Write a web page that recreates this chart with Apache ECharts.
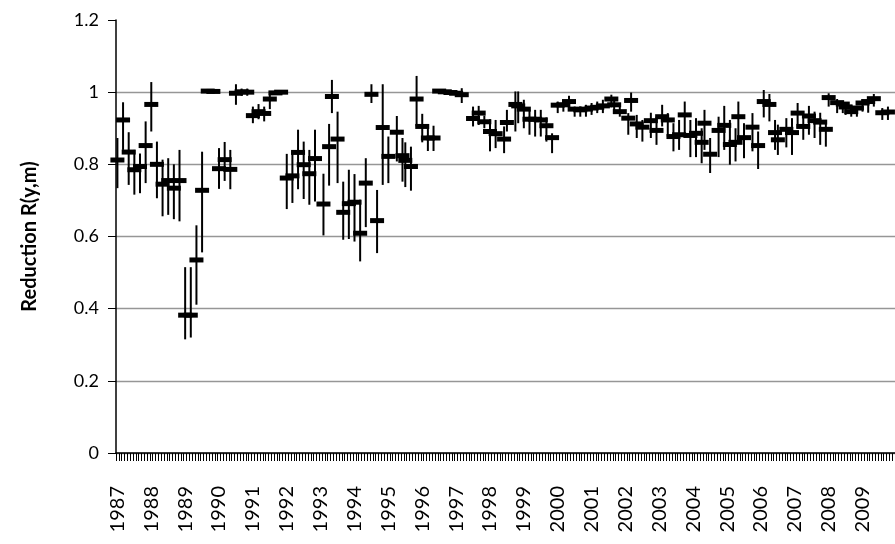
<!DOCTYPE html>
<html><head><meta charset="utf-8">
<script src="https://cdn.jsdelivr.net/npm/echarts@6/dist/echarts.min.js"></script>
<style>html,body{margin:0;padding:0;background:#fff}#c{width:895px;height:544px}</style>
</head><body><div id="c"></div>
<script>
// Years on the axis (monthly categories, label on January of each year)
const years = [1987,1988,1989,1990,1991,1992,1993,1994,1995,1996,1997,1998,1999,2000,2001,2002,2003,2004,2005,2006,2007,2008,2009];
// Month offset (from Jan 1987) of each estimate
const pointIdx = [0,2,4,6,8,10,12,14,16,18,20,22,24,26,28,30,32,34,36,38,40,42,44,46,48,50,52,54,56,58,
  60,62,64,66,68,70,73,75,76,78,80,82,84,86,88,90,92,94,96,99,101,102,104,106,108,110,112,114,116,118,120,122,
  126,128,130,132,134,137,138,141,142,144,146,148,150,152,154,156,158,160,162,164,166,168,170,172,175,176,178,
  181,182,184,186,189,191,193,195,197,199,201,203,205,207,208,210,213,215,217,219,220,222,225,227,229,231,233,234,
  237,239,241,243,245,247,249,251,252,255,257,258,260,262,264,266,268,271,273];
// Mean reduction R(y,m)
const meanR = [.812,.923,.834,.785,.794,.852,.966,.800,.745,.755,.734,.755,.382,.382,.535,.728,1.003,1.002,.788,.813,.786,.997,1.001,1.000,.935,.946,.941,.981,.998,1.000,
  .762,.768,.833,.799,.774,.816,.690,.849,.988,.870,.667,.691,.695,.609,.748,.994,.644,.902,.822,.889,.824,.811,.794,.981,.905,.873,.873,1.003,1.001,.999,.997,.993,
  .927,.942,.918,.891,.885,.870,.916,.966,.962,.953,.925,.925,.923,.907,.874,.964,.965,.974,.953,.951,.953,.956,.958,.962,.981,.965,.946,
  .928,.977,.912,.903,.921,.894,.932,.923,.877,.882,.937,.880,.886,.861,.914,.828,.894,.908,.855,.861,.932,.874,.903,.852,.974,.966,.888,.868,
  .897,.888,.942,.905,.934,.921,.917,.897,.985,.971,.967,.959,.946,.956,.970,.974,.982,.943,.945];
// Lower end of the error bar
const lowR = [.734,.840,.743,.716,.720,.748,.891,.706,.656,.660,.648,.642,.315,.320,.411,.556,.998,.997,.732,.754,.731,.965,.990,.990,.914,.925,.919,.953,.993,.995,
  .676,.693,.731,.704,.688,.697,.603,.741,.942,.748,.591,.593,.586,.531,.626,.970,.554,.743,.748,.808,.752,.737,.727,.905,.861,.837,.837,.998,.996,.994,.990,.970,
  .905,.909,.900,.836,.845,.831,.891,.891,.914,.900,.882,.877,.877,.863,.831,.942,.946,.953,.932,.932,.932,.937,.942,.942,.958,.946,.932,
  .882,.946,.873,.863,.873,.854,.905,.877,.836,.840,.877,.820,.820,.803,.840,.776,.820,.840,.799,.808,.861,.817,.836,.787,.930,.919,.840,.826,
  .847,.826,.900,.868,.882,.873,.854,.849,.960,.942,.942,.937,.932,.932,.946,.943,.960,.923,.923];
// Upper end of the error bar
const highR = [.873,.972,.889,.840,.830,.919,1.028,.863,.813,.817,.800,.840,.515,.515,.631,.835,1.008,1.006,.845,.862,.840,1.022,1.010,1.010,.960,.967,.960,1.002,1.003,1.005,
  .829,.836,.896,.863,.840,.896,.774,.912,1.034,.946,.752,.785,.773,.702,.817,1.022,.729,1.022,.877,.934,.873,.861,.849,1.045,.940,.907,.907,1.008,1.006,1.004,1.004,1.011,
  .960,.962,.935,.925,.923,.905,.951,1.002,1.002,.979,.951,.951,.951,.930,.886,.974,.978,.990,.960,.960,.965,.970,.974,.979,.993,.981,.970,
  .942,.999,.937,.923,.943,.932,.965,.942,.914,.923,.974,.923,.928,.900,.951,.873,.932,.962,.923,.900,.974,.914,.942,.891,1.006,.995,.923,.910,
  .928,.928,.970,.932,.962,.946,.943,.923,.997,.981,.974,.970,.965,.962,.980,.983,.995,.956,.960];

const months = [];
years.forEach(y => { for (let m = 1; m <= 12; m++) months.push(y + '-' + (m < 10 ? '0' + m : m)); });
const data = pointIdx.map((m, k) => [m, meanR[k], lowR[k], highR[k]]);

const FONT = 'Lato, "Open Sans", sans-serif';
const chart = echarts.init(document.getElementById('c'), null, {renderer: 'canvas'});
chart.setOption({
  animation: false,
  backgroundColor: '#fff',
  grid: {left: 116, right: -4, top: 20, bottom: 91, containLabel: false},
  xAxis: {
    type: 'category', data: months, boundaryGap: true,
    axisLine: {lineStyle: {color: '#000', width: 1.5}},
    axisTick: {show: true, interval: 0, length: 8, lineStyle: {color: '#000', width: 1}},
    axisLabel: {interval: 11, rotate: 90, margin: 33, color: '#000', fontSize: 20, fontFamily: FONT,
      formatter: v => v.slice(0, 4)},
    splitLine: {show: false}
  },
  yAxis: {
    type: 'value', min: 0, max: 1.2, interval: 0.2,
    name: 'Reduction R(y,m)', nameLocation: 'middle', nameGap: 76,
    nameTextStyle: {color: '#000', fontSize: 20, fontWeight: 'bold', fontFamily: FONT},
    axisLine: {show: true, lineStyle: {color: '#000', width: 1.5}},
    axisTick: {show: true, length: 8, lineStyle: {color: '#000'}},
    axisLabel: {color: '#000', fontSize: 18, margin: 17, fontFamily: FONT},
    splitLine: {show: true, lineStyle: {color: ['#969696','#969696','#969696','#969696','#969696','#969696','rgba(0,0,0,0)'], width: 1.3}}
  },
  series: [{
    type: 'custom', clip: false,
    encode: {x: 0, y: 1},
    data: data,
    renderItem: function (params, api) {
      const i = api.value(0);
      const m = api.coord([i, api.value(1)]);
      const lo = api.coord([i, api.value(2)]);
      const hi = api.coord([i, api.value(3)]);
      return {type: 'group', children: [
        {type: 'line', shape: {x1: m[0], y1: lo[1], x2: m[0], y2: hi[1]}, style: {stroke: '#000', lineWidth: 2}},
        {type: 'rect', shape: {x: m[0] - 7, y: m[1] - 2.5, width: 14, height: 5}, style: {fill: '#000'}}
      ]};
    }
  }]
});
</script></body></html>
